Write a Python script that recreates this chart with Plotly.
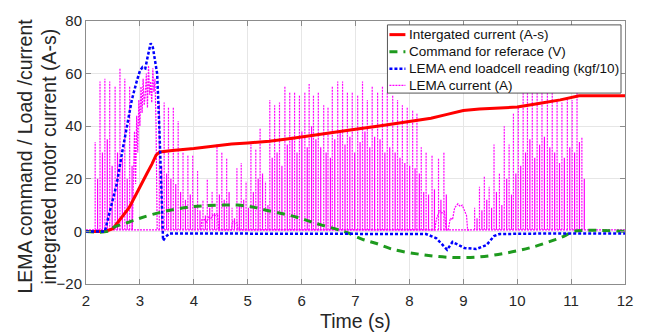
import plotly.graph_objects as go

# ---------------- data ----------------
# Integrated current (A-s)
t_int = [2.0, 2.35, 2.5, 2.63, 2.8, 2.94, 3.05, 3.13, 3.22, 3.3, 3.37, 3.6, 4.0, 4.4, 4.7,
         5.0, 5.4, 5.8, 6.2, 6.6, 7.0, 7.5, 8.0, 8.4, 8.7, 9.0, 9.3, 9.6, 10.0, 10.4,
         10.8, 11.15, 12.0]
int_current = [0, 0, 1, 4.5, 9, 14.5, 18.5, 22, 25.5, 29, 30.2, 30.8, 31.5, 32.6, 33.2,
               33.6, 34.3, 35.3, 36.4, 37.6, 38.8, 40.3, 41.8, 43.0, 44.5, 46.0, 46.5, 46.8, 47.3, 48.6,
               50.0, 51.6, 51.6]

# Command for referace (V)
t_cmd = [2.0, 2.4, 2.5, 2.76, 3.0, 3.43, 3.98, 4.54, 4.81, 5.09, 5.31, 5.65, 5.91, 6.15,
         6.39, 6.7, 6.85, 7.13, 7.39, 7.69, 8.19, 8.69, 9.24, 9.8, 10.28, 10.72, 10.9, 11.05, 12.0]
cmd = [0, 0, 1.5, 3.3, 5.0, 7.5, 9.4, 10, 10, 9.3, 8.2, 6.7, 5.4, 3.8,
       2.3, 0.5, -0.5, -3.0, -4.6, -6.8, -8.7, -9.8, -9.8, -8.2, -6.0, -3.0, -1.5, 0, 0]

# LEMA end loadcell reading (kgf/10)
t_load = [2.0, 2.35, 2.41, 2.5, 2.57, 2.67, 2.76, 2.85, 2.94, 3.0, 3.05, 3.1, 3.15, 3.2,
          3.24, 3.28, 3.32, 3.36, 3.4, 3.43, 3.48, 3.55, 4.0, 5.0, 6.0, 7.0, 8.0, 8.31,
          8.5, 8.7, 8.8, 9.02, 9.24, 9.43, 9.57, 9.67, 10.5, 12.0]
load = [0, 0, 5, 12, 18, 30, 40, 50, 57, 61, 62.5, 62, 67, 71.5,
        70, 65, 60, 40, 10, -3.5, -2, -0.8, -0.8, -0.8, -0.8, -0.9, -0.9, -1.0,
        -2.6, -7, -4, -6.3, -6.7, -5.2, -1.8, -1.0, -0.8, -0.8]

# LEMA current (A): PWM spikes (tall dotted + short solid), noisy cluster, low bumps
cur_base = 0.6
spike_t = [2.17, 2.26, 2.35, 2.44, 2.54, 2.63, 2.72, 2.81,
           3.36, 3.45, 3.53, 3.62, 3.71, 3.8, 3.89, 3.98, 4.07, 4.17, 4.25, 4.34, 4.43, 4.52, 4.61, 4.71,
           4.8, 4.88, 4.97, 5.06, 5.15, 5.23, 5.33,
           5.41, 5.5, 5.59, 5.69, 5.78, 5.87, 5.96, 6.06, 6.14, 6.22, 6.31, 6.41, 6.49,
           6.57, 6.67, 6.76, 6.85, 6.94, 7.04, 7.13, 7.22, 7.31, 7.41, 7.5,
           7.59, 7.69, 7.78, 7.87, 7.96, 8.06, 8.14,
           8.22, 8.31, 8.42, 8.54, 8.64,
           9.21, 9.3, 9.39, 9.48, 9.57, 9.67, 9.76, 9.85, 9.93, 10.02,
           10.11, 10.19, 10.28, 10.37, 10.46, 10.56, 10.65, 10.74, 10.83, 10.93, 11.02, 11.11, 11.2]
spike_h = [34, 57, 58, 57, 55, 62, 58, 55,
           49, 49, 47, 47, 42, 30, 29, 29, 23, 12, 20, 15, 33, 30, 28, 9,
           24, 26, 19, 33, 31, 39, 19,
           50, 48, 49, 55, 53, 53, 52, 53, 56, 52, 53, 48, 47,
           55, 57, 57, 53, 53, 52, 57, 50, 55, 53, 55,
           53, 52, 50, 48, 47, 46, 45,
           32, 30, 29, 28, 30,
           9, 17, 21, 17, 33, 22, 40, 33, 45, 47,
           55, 56, 56, 57, 56, 57, 55, 50, 49, 51, 50, 54, 36]
spike_h2 = [20, 30, 35, 25, 30, 28, 20, 25,
            25, 22, 20, 18, 15, 12, 14, 10, 8, 6, 9, 7, 14, 12, 15, 5,
            10, 12, 9, 15, 20, 22, 10,
            28, 30, 25, 33, 36, 30, 38, 32, 40, 35, 32, 30, 28,
            35, 38, 33, 36, 30, 34, 38, 32, 36, 35, 30,
            32, 30, 28, 26, 25, 24, 22,
            15, 14, 16, 12, 14,
            5, 8, 12, 9, 15, 10, 20, 14, 22, 25,
            30, 35, 28, 33, 36, 32, 30, 26, 28, 32, 30, 34, 20]
cluster_t = [2.86, 2.88, 2.90, 2.92, 2.94, 2.96, 2.98, 3.00, 3.02, 3.04, 3.06, 3.08,
             3.10, 3.12, 3.14, 3.16, 3.18, 3.20, 3.22, 3.24, 3.26, 3.28, 3.30, 3.32]
cluster_v = [0.6, 22, 38, 18, 44, 30, 50, 40, 55, 45, 58, 48,
             52, 60, 47, 63, 52, 57, 49, 62, 53, 58, 40, 0.6]
bump_t = [4.13, 4.15, 4.2, 4.24, 4.28, 4.32, 4.36, 4.4, 4.44, 4.46,
          4.70, 4.72, 4.76, 4.8, 4.82,
          8.47, 8.5, 8.56, 8.6, 8.65, 8.68, 8.72, 8.76, 8.8, 8.84, 8.9, 8.94, 8.98,
          9.02, 9.06, 9.08, 9.11]
bump_v = [0.6, 4.5, 4.5, 3.5, 5.5, 5.0, 6.5, 6.0, 6.8, 0.6,
          0.6, 4, 3, 3.5, 0.6,
          0.6, 4.5, 8, 7, 7.5, 0.6, 0.6, 5, 4.5, 9, 10.5, 9.5, 10,
          8, 6, 0.6, 0.6]
spike_shift = 0.045  # short solid pulse sits between the tall ones

x_ticks = [2, 3, 4, 5, 6, 7, 8, 9, 10, 11, 12]
y_ticks = [-20, 0, 20, 40, 60, 80]

series_names = ["Intergated current (A-s)", "Command for referace (V)",
                "LEMA end loadcell reading (kgf/10)", "LEMA current (A)"]

# ---------------- build LEMA current traces ----------------
cur_x, cur_y = [2.0, 12.0, None], [cur_base, cur_base, None]
for t, h in zip(spike_t, spike_h):
    cur_x += [t, t, None]
    cur_y += [cur_base, h, None]
cur_x += list(cluster_t) + [None]
cur_y += list(cluster_v) + [None]
cur_x += list(bump_t)
cur_y += list(bump_v)

sec_x, sec_y = [], []
for t, h in zip(spike_t, spike_h2):
    sec_x += [t + spike_shift, t + spike_shift, None]
    sec_y += [cur_base, h, None]

FONT = "Liberation Sans, Arial, Helvetica, sans-serif"
TXT = "#262626"
MAG = "#ff00ff"
styles = [dict(color="#ff0000", width=3),
          dict(color="#1e9a1e", width=3, dash="8px,6px"),
          dict(color="#0000ff", width=2.5, dash="3px,2px"),
          dict(color=MAG, width=1.2, dash="2px,1px")]

fig = go.Figure()
fig.add_trace(go.Scatter(x=sec_x, y=sec_y, mode="lines", showlegend=False,
                         line=dict(color=MAG, width=1.2), hoverinfo="skip"))
fig.add_trace(go.Scatter(x=cur_x, y=cur_y, mode="lines", name=series_names[3],
                         line=styles[3], showlegend=False))
fig.add_trace(go.Scatter(x=t_int, y=int_current, mode="lines", name=series_names[0],
                         line=styles[0], showlegend=False))
fig.add_trace(go.Scatter(x=t_cmd, y=cmd, mode="lines", name=series_names[1],
                         line=dict(shape="spline", **styles[1]), showlegend=False))
fig.add_trace(go.Scatter(x=t_load, y=load, mode="lines", name=series_names[2],
                         line=styles[2], showlegend=False))

axis_common = dict(showgrid=True, gridcolor="#e6e6e6", gridwidth=1,
                   showline=True, linecolor="#8c8c8c", linewidth=1, mirror="ticks",
                   ticks="inside", ticklen=5, tickcolor="#8c8c8c",
                   tickfont=dict(family=FONT, size=15, color=TXT), zeroline=False)

# plot area in pixels
L, R, T, B = 86, 626, 14, 284
def px(xp):
    return (xp - L) / (R - L)
def py(yp):
    return (B - yp) / (B - T)

shapes, annotations = [], []
# legend box (MATLAB style, opaque)
leg_l, leg_r, leg_t, leg_b = 388, 622, 18, 88
shapes.append(dict(type="rect", xref="paper", yref="paper", layer="above",
                   x0=px(leg_l), x1=px(leg_r), y0=py(leg_b), y1=py(leg_t),
                   fillcolor="white", line=dict(color="#555555", width=1)))
row_y = [28, 45.5, 63, 80]
for name, st, ry in zip(series_names, styles, row_y):
    ln = dict(color=st["color"], width=st["width"])
    if "dash" in st:
        ln["dash"] = st["dash"]
    shapes.append(dict(type="line", xref="paper", yref="paper", layer="above",
                       x0=px(390), x1=px(406), y0=py(ry), y1=py(ry), line=ln))
    annotations.append(dict(text=name, x=px(408), y=py(ry), xref="paper", yref="paper",
                            xanchor="left", yanchor="middle", showarrow=False,
                            font=dict(family=FONT, size=13.5, color="#111111")))

annotations += [
    dict(text="LEMA command / Load /current", x=px(25), xref="paper", y=0.485, yref="paper",
         textangle=-90, showarrow=False, font=dict(family=FONT, size=19.5, color=TXT),
         xanchor="center", yanchor="middle"),
    dict(text="integrated motor current (A-s)", x=px(49), xref="paper", y=0.485, yref="paper",
         textangle=-90, showarrow=False, font=dict(family=FONT, size=19.5, color=TXT),
         xanchor="center", yanchor="middle"),
    dict(text="Time (s)", x=0.5, xref="paper", y=py(322), yref="paper",
         showarrow=False, font=dict(family=FONT, size=19.5, color=TXT),
         xanchor="center", yanchor="middle"),
]

fig.update_layout(
    width=645, height=334,
    margin=dict(l=L, r=645 - R, t=T, b=334 - B),
    paper_bgcolor="white", plot_bgcolor="white",
    showlegend=False,
    xaxis=dict(range=[2, 12], tickvals=x_ticks, **axis_common, ticklabelstandoff=3),
    yaxis=dict(range=[-20, 80], tickvals=y_ticks, **axis_common),
    shapes=shapes,
    annotations=annotations,
)

fig.write_html("out.html")
